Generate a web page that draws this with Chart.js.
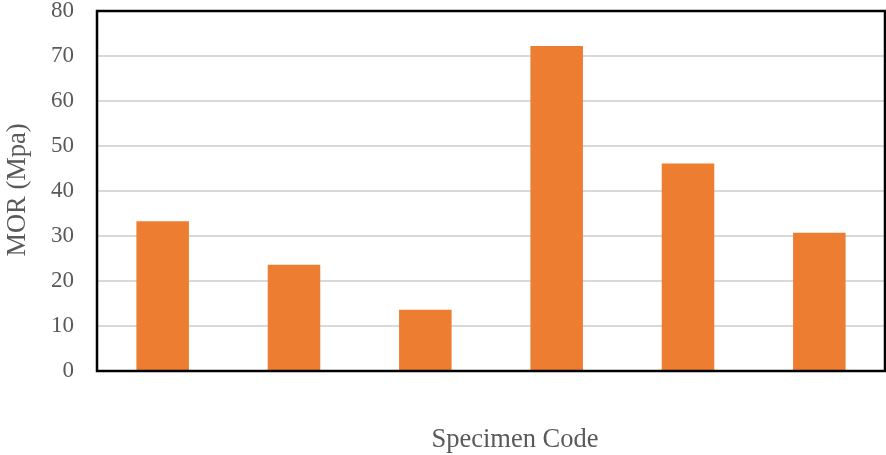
<!DOCTYPE html>
<html>
<head>
<meta charset="utf-8">
<script src="https://cdn.jsdelivr.net/npm/chart.js@4/dist/chart.umd.min.js"></script>
<style>
  html, body { margin: 0; padding: 0; background: #ffffff; }
  #wrap { width: 886px; height: 455px; position: relative; }
</style>
</head>
<body>
<div id="wrap"><canvas id="chart"></canvas></div>
<script>
// Modulus of rupture per specimen
const categories = ['S1', 'S2', 'S3', 'S4', 'S5', 'S6'];
const morValues = [33.3, 23.6, 13.6, 72.2, 46.1, 30.7];
const yTicks = [0, 10, 20, 30, 40, 50, 60, 70, 80];
const xTitle = 'Specimen Code';
const yTitle = 'MOR (Mpa)';

const serif = '"Liberation Serif", "Times New Roman", serif';
const textGray = '#595959';

// Axis titles and a closed frame around the plot area
const framePlugin = {
  id: 'frame',
  afterDatasetsDraw(chart) {
    const { ctx, chartArea: a } = chart;
    ctx.save();
    ctx.strokeStyle = '#000000';
    ctx.lineWidth = 2.5;
    ctx.strokeRect(a.left, a.top, a.right - a.left, a.bottom - a.top);
    ctx.restore();
  },
  afterDraw(chart) {
    const { ctx } = chart;
    ctx.save();
    ctx.fillStyle = textGray;
    ctx.font = '26.5px ' + serif;
    ctx.textAlign = 'center';
    ctx.textBaseline = 'middle';
    ctx.fillText(xTitle, 515, 440);
    ctx.translate(18, 190);
    ctx.rotate(-Math.PI / 2);
    ctx.fillText(yTitle, 0, 0);
    ctx.restore();
  }
};

new Chart(document.getElementById('chart'), {
  type: 'bar',
  data: {
    labels: categories,
    datasets: [{
      data: morValues,
      backgroundColor: '#ED7D31',
      borderWidth: 0,
      categoryPercentage: 0.8,
      barPercentage: 0.5
    }]
  },
  options: {
    responsive: true,
    maintainAspectRatio: false,
    animation: false,
    layout: { padding: { top: 11, right: 1, bottom: 0, left: 0 } },
    plugins: {
      legend: { display: false },
      tooltip: { enabled: false }
    },
    scales: {
      x: {
        grid: { display: false, drawTicks: false },
        border: { display: false },
        ticks: { display: false },
        afterFit(scale) { scale.height = 84; }
      },
      y: {
        min: 0,
        max: 80,
        afterBuildTicks(scale) { scale.ticks = yTicks.map(v => ({ value: v })); },
        grid: { color: '#d9d9d9', lineWidth: 2, drawTicks: false },
        border: { display: false },
        ticks: {
          color: textGray,
          padding: 23,
          font: { family: serif, size: 23 }
        },
        afterFit(scale) {
          scale.width = 97;
          scale.paddingTop = 0;
          scale.paddingBottom = 0;
        }
      }
    }
  },
  plugins: [framePlugin]
});
</script>
</body>
</html>
